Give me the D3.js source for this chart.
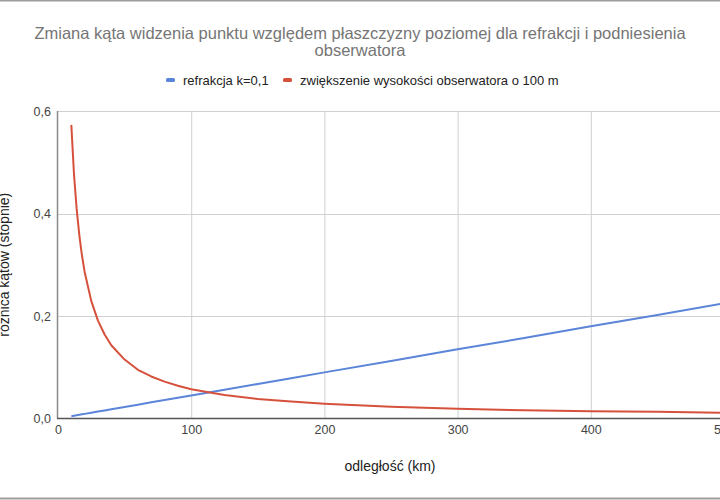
<!DOCTYPE html>
<html>
<head>
<meta charset="utf-8">
<script src="https://cdn.jsdelivr.net/npm/d3@7"></script>
<style>
  body { margin: 0; overflow: hidden; background: #fff; }
  text { font-family: "Liberation Sans", Arial, sans-serif; }
</style>
</head>
<body>
<div id="chart"></div>
<script>
// Data
var distance = [10, 12, 14, 16, 18, 20, 25, 30, 35, 40, 50, 60, 70, 80, 90, 100,
                125, 150, 175, 200, 250, 300, 350, 400, 450, 500];
var refraction = [0.0045, 0.0054, 0.0063, 0.0072, 0.0081, 0.009, 0.0112, 0.0135, 0.0157, 0.018,
                  0.0225, 0.027, 0.0315, 0.036, 0.0405, 0.045, 0.0562, 0.0674, 0.0787, 0.09,
                  0.112, 0.135, 0.157, 0.18, 0.202, 0.225];
var elevation = [0.573, 0.477, 0.409, 0.358, 0.318, 0.286, 0.229, 0.191, 0.164, 0.143,
                 0.115, 0.095, 0.082, 0.072, 0.064, 0.057, 0.046, 0.038, 0.033, 0.029,
                 0.023, 0.019, 0.016, 0.014, 0.013, 0.011];
var seriesNames = ['refrakcja k=0,1', 'zwiększenie wysokości obserwatora o 100 m'];
var seriesColors = ['#5b85d9', '#d6513c'];
var xTicks = [0, 100, 200, 300, 400, 500];
var yTicks = [0, 0.2, 0.4, 0.6];

var w = 760, h = 500;
var svg = d3.select('#chart').append('svg')
            .attr('width', w)
            .attr('height', h);

// frame lines top and bottom
svg.append('line').attr('x1', 0).attr('x2', w).attr('y1', 0.5).attr('y2', 0.5)
   .attr('stroke', '#9e9e9e').attr('stroke-width', 2);
svg.append('line').attr('x1', 0).attr('x2', w).attr('y1', 498.5).attr('y2', 498.5)
   .attr('stroke', '#9e9e9e').attr('stroke-width', 2);

// title
var title = svg.append('text')
   .attr('text-anchor', 'middle')
   .attr('font-size', '16.5px')
   .attr('fill', '#757575');
title.append('tspan').attr('x', 360).attr('y', 39)
     .text('Zmiana kąta widzenia punktu względem płaszczyzny poziomej dla refrakcji i podniesienia');
title.append('tspan').attr('x', 360).attr('y', 56).text('obserwatora');

// scales
var x = d3.scaleLinear().domain([0, 500]).range([58, 724]);
var y = d3.scaleLinear().domain([0, 0.6]).range([418.5, 111]);

// grid
svg.append('g').selectAll('line.vg')
   .data(xTicks.slice(1)).enter().append('line')
   .attr('x1', function(d) { return x(d) + 0.5; })
   .attr('x2', function(d) { return x(d) + 0.5; })
   .attr('y1', y(0.6)).attr('y2', y(0))
   .attr('stroke', '#d0d0d0');
svg.append('g').selectAll('line.hg')
   .data(yTicks.slice(1)).enter().append('line')
   .attr('x1', x(0)).attr('x2', w)
   .attr('y1', function(d) { return Math.round(y(d)) + 0.5; })
   .attr('y2', function(d) { return Math.round(y(d)) + 0.5; })
   .attr('stroke', '#d0d0d0');

// axes
var xAxis = svg.append('g')
   .attr('transform', 'translate(0,' + y(0) + ')')
   .call(d3.axisBottom(x).tickValues(xTicks).tickSize(0).tickPadding(7));
xAxis.select('.domain').remove();
xAxis.selectAll('text').attr('font-size', '12.5px').attr('fill', '#444')
     .style('font-family', '"Liberation Sans", Arial, sans-serif');

var yAxis = svg.append('g')
   .attr('transform', 'translate(' + x(0) + ',0)')
   .call(d3.axisLeft(y).tickValues(yTicks).tickSize(0).tickPadding(7)
           .tickFormat(function(d) { return d3.format('.1f')(d).replace('.', ','); }));
yAxis.select('.domain').remove();
yAxis.selectAll('text').attr('font-size', '12.5px').attr('fill', '#444')
     .style('font-family', '"Liberation Sans", Arial, sans-serif');

svg.append('line').attr('x1', x(0) - 0.5).attr('x2', x(0) - 0.5)
   .attr('y1', y(0.6)).attr('y2', y(0))
   .attr('stroke', '#8a8a8a').attr('stroke-width', 1.5);
svg.append('line').attr('x1', x(0) - 1).attr('x2', w)
   .attr('y1', y(0)).attr('y2', y(0))
   .attr('stroke', '#555').attr('stroke-width', 1.5);

// axis titles
svg.append('text')
   .attr('x', 390).attr('y', 471)
   .attr('text-anchor', 'middle')
   .attr('font-size', '14px').attr('fill', '#222')
   .text('odległość (km)');
svg.append('text')
   .attr('transform', 'translate(9,' + (y(0.3)) + ') rotate(-90)')
   .attr('text-anchor', 'middle')
   .attr('font-size', '14px').attr('fill', '#222')
   .text('różnica kątów (stopnie)');

// lines
var series = [refraction, elevation];
var line = d3.line()
   .x(function(d, i) { return x(distance[i]); })
   .y(function(d) { return y(d); });
svg.selectAll('path.series')
   .data(series).enter().append('path')
   .attr('class', 'series')
   .attr('d', line)
   .attr('fill', 'none')
   .attr('stroke', function(d, i) { return seriesColors[i]; })
   .attr('stroke-width', 2)
   .attr('stroke-linejoin', 'round');

// legend
var legendX = [166, 283];
var lg = svg.append('g').selectAll('g')
   .data(seriesNames).enter().append('g')
   .attr('transform', function(d, i) { return 'translate(' + legendX[i] + ',80)'; });
lg.append('rect')
  .attr('x', 0).attr('y', -2).attr('width', 9).attr('height', 4).attr('rx', 1.5)
  .attr('fill', function(d, i) { return seriesColors[i]; });
lg.append('text')
  .attr('x', 17).attr('y', 4.5)
  .attr('font-size', '13px').attr('fill', '#222')
  .text(function(d) { return d; });
</script>
</body>
</html>
